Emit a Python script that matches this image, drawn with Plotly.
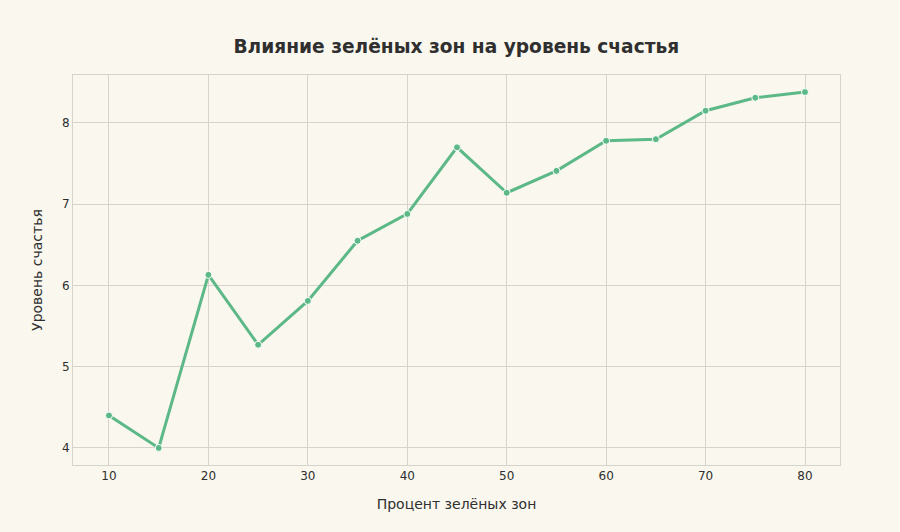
import plotly.graph_objects as go

green_pct = [10, 15, 20, 25, 30, 35, 40, 45, 50, 55, 60, 65, 70, 75, 80]
happiness = [4.40, 4.00, 6.13, 5.27, 5.81, 6.55, 6.88, 7.70, 7.14, 7.41, 7.78, 7.80, 8.15, 8.31, 8.38]
x_ticks = [10, 20, 30, 40, 50, 60, 70, 80]
y_ticks = [4, 5, 6, 7, 8]

bg = "#f9f7ee"
grid = "#d6d3cb"
txt = "#2f2f2f"
line_col = "#5cb887"

fig = go.Figure(go.Scatter(
    x=green_pct, y=happiness, mode="lines+markers",
    line=dict(color=line_col, width=3),
    marker=dict(size=7, color=line_col, line=dict(color="white", width=1)),
))

fig.update_layout(
    width=900, height=532,
    paper_bgcolor=bg, plot_bgcolor=bg,
    margin=dict(l=73, r=60, t=75, b=67),
    font=dict(family="DejaVu Sans", color=txt, size=12),
    title=dict(text="<b>Влияние зелёных зон на уровень счастья</b>",
               x=0.507, xanchor="center", y=0.913, yanchor="middle",
               font=dict(size=18.6, color=txt)),
    showlegend=False,
)
fig.update_xaxes(
    range=[6.38, 83.52], tickvals=x_ticks, ticks="", showgrid=True,
    gridcolor=grid, gridwidth=1, zeroline=False,
    showline=True, linecolor=grid, linewidth=1, mirror=True,
    title=dict(text="Процент зелёных зон", font=dict(size=14), standoff=16),
    tickfont=dict(size=12),
)
fig.update_yaxes(
    range=[3.79, 8.59], tickvals=y_ticks, ticks="", showgrid=True,
    gridcolor=grid, gridwidth=1, zeroline=False,
    showline=True, linecolor=grid, linewidth=1, mirror=True,
    title=dict(text="Уровень счастья", font=dict(size=14), standoff=16),
    tickfont=dict(size=12),
)

fig.write_html("out.html", config={"displayModeBar": False},
               post_script="document.body.style.margin='0';document.body.style.background='" + bg + "';")
